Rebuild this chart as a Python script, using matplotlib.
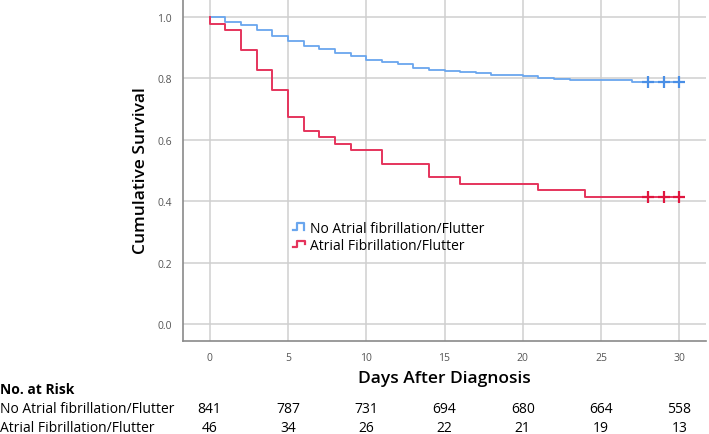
import matplotlib
matplotlib.use("Agg")
import matplotlib.pyplot as plt
from matplotlib.lines import Line2D
from matplotlib.legend_handler import HandlerBase
from matplotlib.transforms import blended_transform_factory

plt.rcParams['font.family'] = ['Open Sans', 'DejaVu Sans']

# ---- data ----
no_af_days = [0, 1, 2, 3, 4, 5, 6, 7, 8, 9, 10, 11, 12, 13, 14, 15, 16, 17, 18, 20, 21, 22, 23, 25, 27, 30]
no_af_surv = [1.0, 0.984, 0.975, 0.958, 0.939, 0.921, 0.904, 0.896, 0.882, 0.872, 0.861, 0.854, 0.845,
              0.835, 0.827, 0.824, 0.821, 0.816, 0.812, 0.806, 0.800, 0.797, 0.795, 0.793, 0.787, 0.787]
no_af_censor_days = [28, 29, 30]
no_af_censor_surv = [0.787, 0.787, 0.787]

af_days = [0, 0.05, 1, 2, 3, 4, 5, 6, 7, 8, 9, 11, 14, 16, 21, 24, 30]
af_surv = [1.0, 0.978, 0.957, 0.891, 0.826, 0.761, 0.674, 0.630, 0.609, 0.587, 0.565, 0.522, 0.478,
           0.4565, 0.435, 0.413, 0.413]
af_censor_days = [28, 29, 30]
af_censor_surv = [0.413, 0.413, 0.413]

group_labels = ["No Atrial fibrillation/Flutter", "Atrial Fibrillation/Flutter"]
risk_times = [0, 5, 10, 15, 20, 25, 30]
risk_no_af = [841, 787, 731, 694, 680, 664, 558]
risk_af = [46, 34, 26, 22, 21, 19, 13]

x_ticks = [0, 5, 10, 15, 20, 25, 30]
y_ticks = [0.0, 0.2, 0.4, 0.6, 0.8, 1.0]

blue = "#6aa6ee"
red = "#e5345c"

fig = plt.figure(figsize=(7.09, 4.35), dpi=100)
ax = fig.add_axes([183 / 709, 93 / 435, (706 - 183) / 709, 342 / 435])

ax.step(no_af_days, no_af_surv, where="post", color=blue, lw=1.3)
ax.step(af_days, af_surv, where="post", color=red, lw=1.4)
ax.plot(no_af_censor_days, no_af_censor_surv, ls="none", marker="+", ms=8, mew=1.6, color="#4a8fe6")
ax.plot(af_censor_days, af_censor_surv, ls="none", marker="+", ms=8, mew=1.6, color="#e0163f")

ax.set_xlim(-1.7, 31.7)
ax.set_ylim(-0.055, 1.058)
ax.set_xticks(x_ticks)
ax.set_yticks(y_ticks)
ax.set_xticklabels([str(t) for t in x_ticks])
ax.set_yticklabels([f"{t:.1f}" for t in y_ticks])
ax.tick_params(length=0, labelsize=7.5, colors="#555555", pad=8)
ax.grid(True, color="#cfcfcf", lw=1.1)
ax.set_axisbelow(True)
for s in ["top", "right"]:
    ax.spines[s].set_visible(False)
for s in ["left", "bottom"]:
    ax.spines[s].set_color("#8a8a8a")
    ax.spines[s].set_linewidth(1.2)

ax.set_xlabel("Days After Diagnosis", fontsize=12.5, fontweight="semibold", labelpad=5)
ax.set_ylabel("Cumulative Survival", fontsize=12.5, fontweight="semibold", labelpad=6)


class StepHandler(HandlerBase):
    def __init__(self, shape):
        super().__init__()
        self.shape = shape

    def create_artists(self, legend, orig_handle, xd, yd, width, height, fontsize, trans):
        w, h = width, height
        if self.shape == "hat":
            xs = [0, 0.3 * w, 0.3 * w, 0.8 * w, 0.8 * w]
            ys = [0.15 * h, 0.15 * h, 0.85 * h, 0.85 * h, 0.15 * h]
        else:
            xs = [0, 0.3 * w, 0.3 * w, 0.85 * w, 0.85 * w]
            ys = [0.15 * h, 0.15 * h, 0.85 * h, 0.85 * h, 0.5 * h]
        ln = Line2D([x - xd for x in xs], [y - yd for y in ys], color=orig_handle.get_color(),
                    lw=1.6, transform=trans)
        return [ln]


h1 = Line2D([], [], color=blue)
h2 = Line2D([], [], color=red)
leg = ax.legend([h1, h2], group_labels, loc="upper left", bbox_to_anchor=(0.2, 0.368),
                frameon=False, fontsize=10, handlelength=1.0, handletextpad=0.2,
                labelspacing=0.15, borderaxespad=0,
                handler_map={h1: StepHandler("hat"), h2: StepHandler("step")})

# ---- risk table ----
tr = blended_transform_factory(ax.transData, fig.transFigure)
fig.text(0.0, 0.103, "No. at Risk", fontsize=10, fontweight="bold", va="center", ha="left")
fig.text(0.0, 0.059, group_labels[0], fontsize=10, va="center", ha="left")
fig.text(0.0, 0.016, group_labels[1], fontsize=10, va="center", ha="left")
for t, a, b in zip(risk_times, risk_no_af, risk_af):
    fig.text(t, 0.059, str(a), transform=tr, fontsize=10, va="center", ha="center")
    fig.text(t, 0.016, str(b), transform=tr, fontsize=10, va="center", ha="center")

fig.savefig("out.png", dpi=100)
